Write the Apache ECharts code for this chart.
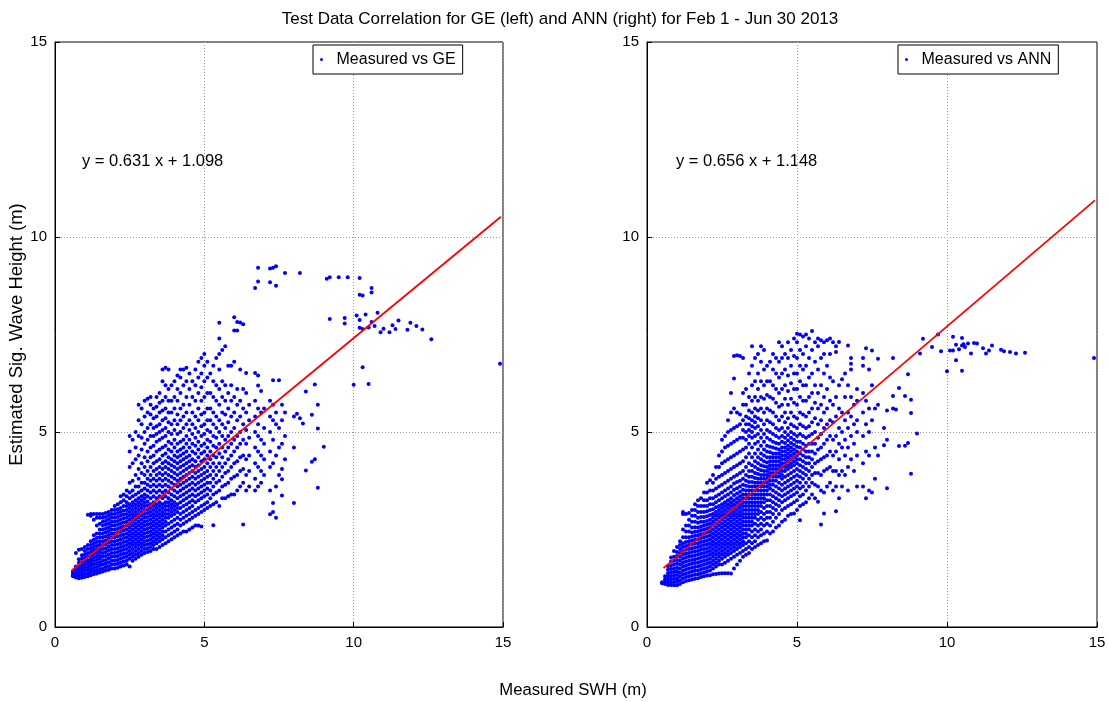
<!DOCTYPE html>
<html>
<head>
<meta charset="utf-8">
<script src="https://cdn.jsdelivr.net/npm/echarts@6/dist/echarts.min.js"></script>
<style>html,body{margin:0;padding:0;background:#fff}#c{width:1109px;height:702px}</style>
</head>
<body>
<div id="c"></div>
<script>
// Axis ticks
const xTicks = [0, 5, 10, 15];
const yTicks = [0, 5, 10, 15];

// Left panel: Measured vs GE, columns [measured x, [estimated y values]]
const geCols = [
[0.6,[1.3,1.36,1.42,1.33]],
[0.7,[1.27,1.34,1.41,1.48,1.55,1.9]],
[0.8,[1.25,1.32,1.4,1.48,1.56,1.65,1.74,1.98]],
[0.9,[1.26,1.34,1.42,1.5,1.58,1.66,1.75,1.84,2.0]],
[1.0,[1.28,1.36,1.44,1.52,1.6,1.68,1.77,1.86,1.95,2.05]],
[1.1,[1.3,1.38,1.46,1.54,1.62,1.7,1.8,1.9,2.0,2.1,2.88]],
[1.2,[1.33,1.41,1.49,1.57,1.65,1.74,1.83,1.92,2.01,2.1,2.2,2.85,2.9]],
[1.3,[1.35,1.43,1.51,1.6,1.69,1.78,1.87,1.96,2.05,2.14,2.24,2.35,2.75,2.9]],
[1.4,[1.37,1.45,1.54,1.63,1.72,1.81,1.9,1.99,2.08,2.18,2.28,2.4,2.6,2.8,2.9]],
[1.5,[1.4,1.48,1.57,1.66,1.75,1.84,1.93,2.02,2.11,2.2,2.3,2.4,2.5,2.65,2.8,2.9]],
[1.6,[1.42,1.5,1.6,1.7,1.8,1.9,2.0,2.1,2.2,2.3,2.4,2.5,2.6,2.7,2.8,2.9]],
[1.7,[1.45,1.54,1.63,1.72,1.82,1.92,2.02,2.12,2.22,2.32,2.42,2.52,2.62,2.72,2.82,2.92]],
[1.8,[1.47,1.56,1.66,1.76,1.86,1.96,2.06,2.16,2.26,2.36,2.46,2.56,2.66,2.76,2.86,2.95]],
[1.9,[1.5,1.6,1.7,1.8,1.9,2.0,2.1,2.2,2.3,2.4,2.5,2.6,2.7,2.8,2.9,3.0]],
[2.0,[1.5,1.6,1.7,1.8,1.9,2.0,2.1,2.2,2.3,2.4,2.5,2.6,2.7,2.8,2.9,3.0,3.1]],
[2.1,[1.52,1.62,1.72,1.82,1.92,2.02,2.12,2.22,2.32,2.42,2.52,2.62,2.72,2.82,2.92,3.02,3.15]],
[2.2,[1.55,1.65,1.75,1.85,1.95,2.05,2.15,2.25,2.35,2.45,2.55,2.65,2.75,2.85,2.95,3.05,3.2,3.35]],
[2.3,[1.58,1.68,1.78,1.88,1.98,2.08,2.18,2.28,2.38,2.48,2.58,2.68,2.78,2.88,2.98,3.1,3.25,3.4]],
[2.4,[1.6,1.7,1.8,1.9,2.0,2.1,2.2,2.3,2.4,2.5,2.6,2.7,2.8,2.9,3.0,3.1,3.2,3.35,3.5]],
[2.5,[1.55,1.75,1.85,1.95,2.05,2.15,2.25,2.35,2.45,2.55,2.65,2.75,2.85,2.95,3.05,3.15,3.3,3.45,3.7,4.1,4.5,4.9]],
[2.6,[1.7,1.8,1.9,2.0,2.1,2.2,2.3,2.4,2.5,2.6,2.7,2.8,2.9,3.0,3.1,3.2,3.35,3.5,3.75,4.2,4.8]],
[2.7,[1.75,1.85,1.95,2.05,2.15,2.25,2.35,2.45,2.55,2.65,2.75,2.85,2.95,3.05,3.15,3.25,3.4,3.6,3.9,4.3,4.6,5.0]],
[2.8,[1.8,1.9,2.0,2.1,2.2,2.3,2.4,2.5,2.6,2.7,2.8,2.9,3.0,3.1,3.2,3.3,3.45,3.6,3.8,4.05,4.4,4.9,5.3,5.7]],
[2.9,[1.85,1.95,2.05,2.15,2.25,2.35,2.45,2.55,2.65,2.75,2.85,2.95,3.05,3.15,3.25,3.35,3.5,3.7,3.95,4.2,4.55,4.85,5.2,5.6]],
[3.0,[1.9,2.0,2.1,2.2,2.3,2.4,2.5,2.6,2.7,2.8,2.9,3.0,3.1,3.2,3.3,3.4,3.55,3.7,3.9,4.1,4.35,4.7,5.0,5.4,5.8]],
[3.1,[1.92,2.02,2.12,2.22,2.32,2.42,2.52,2.62,2.72,2.82,2.92,3.02,3.12,3.22,3.35,3.5,3.65,3.8,4.0,4.25,4.5,4.8,5.1,5.5,5.85]],
[3.2,[1.95,2.05,2.15,2.25,2.35,2.45,2.55,2.65,2.75,2.85,2.95,3.05,3.15,3.3,3.45,3.6,3.75,3.9,4.1,4.35,4.6,4.9,5.2,5.45,5.7,5.9]],
[3.3,[2.0,2.1,2.2,2.3,2.4,2.5,2.6,2.7,2.8,2.9,3.0,3.1,3.2,3.35,3.5,3.65,3.8,4.0,4.2,4.4,4.65,4.9,5.1,5.35,5.6]],
[3.4,[2.0,2.15,2.25,2.35,2.45,2.55,2.65,2.75,2.85,2.95,3.05,3.15,3.3,3.45,3.6,3.75,3.9,4.05,4.25,4.5,4.75,4.95,5.15,5.4,5.65,5.9]],
[3.5,[2.05,2.2,2.3,2.4,2.5,2.6,2.7,2.8,2.9,3.0,3.1,3.2,3.35,3.5,3.65,3.8,3.95,4.1,4.3,4.55,4.8,5.0,5.2,5.5,5.75,6.0]],
[3.6,[2.1,2.25,2.35,2.45,2.55,2.65,2.75,2.85,2.95,3.05,3.15,3.3,3.45,3.6,3.75,3.9,4.05,4.2,4.4,4.6,4.85,5.05,5.3,5.55,5.8,6.3,6.6]],
[3.7,[2.15,2.3,2.45,2.6,2.7,2.8,2.9,3.0,3.1,3.2,3.35,3.5,3.65,3.8,3.95,4.1,4.25,4.45,4.65,4.9,5.1,5.35,5.6,5.9,6.2,6.65]],
[3.8,[2.2,2.35,2.5,2.65,2.8,2.9,3.0,3.1,3.2,3.3,3.45,3.6,3.75,3.9,4.05,4.2,4.35,4.55,4.75,5.0,5.25,5.5,5.8,6.1,6.6]],
[3.9,[2.25,2.4,2.55,2.7,2.85,2.95,3.05,3.15,3.25,3.4,3.55,3.7,3.85,4.0,4.15,4.3,4.5,4.7,4.95,5.2,5.5,5.8,6.2]],
[4.0,[2.3,2.45,2.6,2.75,2.9,3.0,3.1,3.2,3.35,3.5,3.65,3.8,3.95,4.1,4.25,4.4,4.6,4.8,5.05,5.3,5.6,5.9,6.3]],
[4.1,[2.35,2.5,2.65,2.8,2.95,3.05,3.15,3.3,3.45,3.6,3.75,3.9,4.05,4.2,4.35,4.5,4.7,4.95,5.2,5.45,5.8,6.1,6.45]],
[4.2,[2.4,2.6,2.75,2.9,3.05,3.2,3.35,3.5,3.65,3.8,3.95,4.1,4.25,4.4,4.55,4.75,5.0,5.3,5.6,6.0,6.4,6.6]],
[4.3,[2.45,2.65,2.8,2.95,3.1,3.25,3.4,3.55,3.7,3.85,4.0,4.15,4.3,4.45,4.6,4.8,5.1,5.4,5.7,6.2,6.6]],
[4.4,[2.45,2.7,2.85,3.0,3.15,3.3,3.45,3.6,3.75,3.9,4.05,4.2,4.35,4.5,4.7,4.9,5.2,5.5,5.9,6.3,6.65]],
[4.5,[2.5,2.75,2.9,3.05,3.2,3.35,3.5,3.65,3.8,3.95,4.1,4.25,4.4,4.6,4.8,5.05,5.3,5.7,6.1,6.5]],
[4.6,[2.55,2.8,2.95,3.1,3.25,3.4,3.55,3.7,3.85,4.0,4.15,4.3,4.5,4.7,4.95,5.2,5.5,5.9,6.3]],
[4.7,[2.6,2.85,3.0,3.2,3.35,3.5,3.65,3.8,3.95,4.1,4.25,4.45,4.65,4.85,5.1,5.4,5.8,6.2,6.6]],
[4.8,[2.6,2.9,3.05,3.25,3.4,3.55,3.7,3.85,4.0,4.15,4.35,4.55,4.75,5.0,5.3,5.6,6.0,6.4,6.8]],
[4.9,[2.58,2.95,3.1,3.3,3.45,3.6,3.75,3.9,4.05,4.25,4.45,4.65,4.9,5.15,5.45,5.8,6.15,6.5,6.9]],
[5.0,[3.0,3.15,3.35,3.5,3.65,3.8,3.95,4.1,4.3,4.5,4.7,4.95,5.2,5.5,5.9,6.3,6.7,7.0]],
[5.1,[3.05,3.2,3.4,3.55,3.7,3.85,4.0,4.2,4.4,4.6,4.8,5.05,5.3,5.6,6.0,6.4,6.8]],
[5.2,[3.1,3.3,3.5,3.7,3.9,4.1,4.3,4.5,4.75,5.0,5.3,5.6,6.0,6.5]],
[5.3,[2.61,3.15,3.4,3.6,3.8,4.0,4.2,4.4,4.65,4.9,5.2,5.5,5.9,6.3,6.7]],
[5.4,[3.2,3.45,3.7,3.9,4.1,4.35,4.6,4.85,5.1,5.4,5.8,6.2,6.9]],
[5.5,[3.1,3.5,3.75,4.0,4.2,4.45,4.7,5.0,5.3,5.7,6.1,6.6,7.0,7.4,7.8]],
[5.6,[3.3,3.6,3.85,4.1,4.35,4.6,4.9,5.2,5.5,5.9,6.3,7.1]],
[5.7,[3.3,3.65,3.95,4.2,4.5,4.8,5.1,5.45,5.8,6.2,7.2]],
[5.8,[3.35,3.7,4.0,4.3,4.6,4.9,5.25,5.6,6.0,6.7]],
[5.9,[3.4,3.8,4.1,4.4,4.7,5.0,5.4,5.8,6.2,6.7]],
[6.0,[3.4,3.85,4.2,4.5,4.8,5.1,5.5,5.9,6.8,7.6,7.94]],
[6.1,[3.5,3.9,4.25,4.6,4.9,5.3,5.7,6.1,7.82,7.6]],
[6.2,[3.6,4.0,4.35,4.7,5.0,5.4,5.8,6.6,7.81]],
[6.3,[2.63,3.7,4.05,4.4,4.8,5.2,5.6,6.1,7.76]],
[6.4,[3.5,3.9,4.3,4.7,5.05,5.5,6.0,6.51]],
[6.5,[3.6,4.0,4.4,4.85,5.3,5.7]],
[6.7,[3.5,3.8,4.2,4.6,5.0,5.4,5.8,6.51,8.69]],
[6.8,[3.6,4.1,4.5,4.9,5.2,5.6,6.45,6.19,8.86,9.21]],
[6.9,[3.7,4.0,4.4,4.8,5.5,6.05]],
[7.0,[3.9,4.3,4.7,5.1,5.6]],
[7.2,[2.89,3.5,4.1,4.5,5.0,5.4,5.8,9.19,8.84]],
[7.3,[2.95,3.18,4.2,4.8,5.3,5.7,6.33,9.21]],
[7.4,[2.8,3.6,4.4,5.2,5.5,9.25,8.75]],
[7.5,[3.9,4.6,5.1,6.33]],
[7.6,[3.37,3.79,4.05,4.7,5.3,5.7]],
[7.7,[4.3,4.9,5.5,9.08]],
[8.0,[3.18,4.6,5.4]],
[8.1,[5.47]],
[8.2,[5.35,9.08]],
[8.3,[5.22]],
[8.4,[4.01,6.04]],
[8.6,[4.24,5.44]],
[8.7,[4.3,6.22]],
[8.8,[3.57,5.09,5.7]],
[9.0,[4.62]],
[9.1,[8.93]],
[9.2,[8.97,7.9]],
[9.5,[8.97]],
[9.7,[7.92,7.78]],
[9.8,[8.97]],
[10.0,[6.21]],
[10.1,[7.99]],
[10.2,[8.95,8.52,7.87,7.67]],
[10.3,[8.5,7.64,6.66]],
[10.4,[8.01]],
[10.5,[7.68,6.23]],
[10.6,[8.69,8.58,7.82]],
[10.7,[7.72]],
[10.8,[8.06]],
[10.9,[7.56]],
[11.0,[7.65]],
[11.2,[7.56]],
[11.3,[7.74]],
[11.4,[7.64]],
[11.5,[7.86]],
[11.8,[7.62]],
[11.9,[7.8]],
[12.1,[7.72]],
[12.3,[7.63]],
[12.6,[7.38]],
[14.9,[6.75]]
];

// Right panel: Measured vs ANN
const annCols = [
[0.5,[1.12,1.15]],
[0.6,[1.1,1.16,1.22,1.3]],
[0.7,[1.08,1.15,1.22,1.3,1.38,1.47,1.56]],
[0.8,[1.08,1.15,1.23,1.31,1.4,1.49,1.58,1.68,1.78]],
[0.9,[1.07,1.15,1.23,1.32,1.41,1.5,1.6,1.7,1.8,1.95]],
[1.0,[1.07,1.16,1.25,1.34,1.43,1.52,1.62,1.72,1.82,1.92,2.05]],
[1.1,[1.1,1.2,1.3,1.4,1.5,1.6,1.7,1.8,1.9,2.0,2.1,2.2]],
[1.2,[1.15,1.25,1.35,1.45,1.55,1.65,1.75,1.85,1.95,2.05,2.15,2.3,2.5,2.9,2.95]],
[1.3,[1.18,1.28,1.38,1.48,1.58,1.68,1.78,1.88,1.98,2.08,2.18,2.3,2.45,2.6,2.9]],
[1.4,[1.2,1.3,1.4,1.5,1.6,1.7,1.8,1.9,2.0,2.1,2.2,2.3,2.45,2.6,2.75,2.92]],
[1.5,[1.22,1.32,1.42,1.52,1.62,1.72,1.82,1.92,2.02,2.12,2.22,2.32,2.42,2.55,2.7,2.85,3.0]],
[1.6,[1.24,1.34,1.44,1.54,1.64,1.74,1.84,1.94,2.04,2.14,2.24,2.34,2.44,2.56,2.7,2.85,3.0,3.15]],
[1.7,[1.25,1.35,1.45,1.55,1.65,1.75,1.85,1.95,2.05,2.15,2.25,2.35,2.45,2.55,2.67,2.8,2.95,3.1,3.25]],
[1.8,[1.28,1.38,1.48,1.58,1.68,1.78,1.88,1.98,2.08,2.18,2.28,2.38,2.48,2.58,2.7,2.82,2.95,3.1,3.3]],
[1.9,[1.3,1.4,1.5,1.6,1.7,1.8,1.9,2.0,2.1,2.2,2.3,2.4,2.5,2.6,2.7,2.82,2.95,3.1,3.25,3.45]],
[2.0,[1.32,1.42,1.52,1.62,1.72,1.82,1.92,2.02,2.12,2.22,2.32,2.42,2.52,2.62,2.72,2.84,2.97,3.1,3.25,3.45,3.7]],
[2.1,[1.33,1.45,1.55,1.65,1.75,1.85,1.95,2.05,2.15,2.25,2.35,2.45,2.55,2.65,2.75,2.87,3.0,3.15,3.3,3.5,3.76]],
[2.2,[1.35,1.5,1.6,1.7,1.8,1.9,2.0,2.1,2.2,2.3,2.4,2.5,2.6,2.7,2.8,2.9,3.02,3.15,3.3,3.5,3.7,3.9]],
[2.3,[1.36,1.55,1.65,1.75,1.85,1.95,2.05,2.15,2.25,2.35,2.45,2.55,2.65,2.75,2.85,2.95,3.07,3.2,3.35,3.55,3.8,4.1]],
[2.4,[1.37,1.6,1.7,1.8,1.9,2.0,2.1,2.2,2.3,2.4,2.5,2.6,2.7,2.8,2.9,3.0,3.1,3.25,3.4,3.6,3.85,4.1,4.4]],
[2.5,[1.38,1.6,1.75,1.85,1.95,2.05,2.15,2.25,2.35,2.45,2.55,2.65,2.75,2.85,2.95,3.05,3.15,3.3,3.45,3.65,3.9,4.2,4.5,4.8]],
[2.6,[1.38,1.65,1.8,1.9,2.0,2.1,2.2,2.3,2.4,2.5,2.6,2.7,2.8,2.9,3.0,3.1,3.2,3.35,3.5,3.7,3.95,4.25,4.6,4.9]],
[2.7,[1.38,1.7,1.85,1.95,2.05,2.15,2.25,2.35,2.45,2.55,2.65,2.75,2.85,2.95,3.05,3.15,3.25,3.4,3.55,3.75,4.0,4.3,4.65,5.0,5.3]],
[2.8,[1.37,1.75,1.9,2.0,2.1,2.2,2.3,2.4,2.5,2.6,2.7,2.8,2.9,3.0,3.1,3.2,3.3,3.45,3.6,3.8,4.05,4.35,4.7,5.05,5.5,6.0]],
[2.9,[1.5,1.8,1.95,2.05,2.15,2.25,2.35,2.45,2.55,2.65,2.75,2.85,2.95,3.05,3.15,3.25,3.38,3.52,3.68,3.85,4.1,4.4,4.75,5.1,5.6,6.37,6.95]],
[3.0,[1.6,1.85,2.0,2.1,2.2,2.3,2.4,2.5,2.6,2.7,2.8,2.9,3.0,3.1,3.2,3.3,3.42,3.56,3.72,3.9,4.15,4.45,4.8,5.15,5.5,6.97]],
[3.1,[1.7,1.9,2.05,2.15,2.25,2.35,2.45,2.55,2.65,2.75,2.85,2.95,3.05,3.15,3.25,3.35,3.47,3.6,3.75,3.95,4.2,4.5,4.85,5.2,5.45,6.95]],
[3.2,[1.8,1.95,2.1,2.2,2.3,2.4,2.5,2.6,2.7,2.8,2.9,3.0,3.1,3.2,3.3,3.4,3.52,3.65,3.8,4.0,4.25,4.55,4.85,5.05,5.3,5.7,6.0,6.9]],
[3.3,[1.85,2.0,2.15,2.3,2.4,2.5,2.6,2.7,2.8,2.9,3.0,3.1,3.2,3.3,3.4,3.5,3.62,3.75,3.9,4.1,4.35,4.6,4.8,5.0,5.2,5.4,5.7,6.1]],
[3.4,[1.9,2.05,2.2,2.35,2.5,2.6,2.7,2.8,2.9,3.0,3.1,3.2,3.3,3.4,3.5,3.6,3.72,3.85,4.0,4.2,4.45,4.7,4.9,5.05,5.2,5.35,5.55,5.9,6.5]],
[3.5,[2.0,2.15,2.3,2.45,2.6,2.7,2.8,2.9,3.0,3.1,3.2,3.3,3.4,3.5,3.6,3.72,3.85,4.0,4.15,4.35,4.6,4.85,5.0,5.15,5.3,5.5,5.8,6.2,6.7,7.2]],
[3.6,[2.05,2.2,2.35,2.5,2.65,2.8,2.9,3.0,3.1,3.2,3.3,3.4,3.5,3.6,3.7,3.82,3.95,4.1,4.25,4.45,4.7,4.9,5.1,5.25,5.4,5.6,5.9,6.3,6.9]],
[3.7,[2.1,2.3,2.45,2.6,2.75,2.9,3.0,3.1,3.2,3.3,3.4,3.5,3.6,3.7,3.8,3.92,4.05,4.2,4.35,4.55,4.75,4.95,5.15,5.35,5.55,5.8,6.1,6.5,7.0]],
[3.8,[2.15,2.35,2.5,2.65,2.8,2.95,3.1,3.2,3.3,3.4,3.5,3.6,3.7,3.8,3.9,4.02,4.15,4.3,4.45,4.65,4.85,5.05,5.3,5.6,5.9,6.3,6.8,7.2]],
[3.9,[2.2,2.4,2.6,2.75,2.9,3.05,3.2,3.3,3.4,3.5,3.6,3.7,3.8,3.9,4.0,4.12,4.25,4.4,4.55,4.75,4.95,5.2,5.5,5.85,6.2,6.6,7.1]],
[4.0,[2.22,2.45,2.65,2.8,2.95,3.1,3.25,3.4,3.5,3.6,3.7,3.8,3.9,4.0,4.1,4.22,4.35,4.5,4.65,4.85,5.05,5.3,5.6,5.95,6.3,6.7]],
[4.1,[2.4,2.6,2.8,2.95,3.1,3.25,3.4,3.55,3.65,3.75,3.85,3.95,4.05,4.15,4.25,4.35,4.48,4.62,4.8,5.0,5.25,5.55,5.9,6.3,6.8]],
[4.2,[2.45,2.7,2.9,3.05,3.2,3.35,3.5,3.65,3.75,3.85,3.95,4.05,4.15,4.25,4.35,4.45,4.6,4.75,4.95,5.2,5.5,5.85,6.2,6.6,7.0]],
[4.3,[2.55,2.8,3.0,3.15,3.3,3.45,3.6,3.75,3.85,3.95,4.05,4.15,4.25,4.35,4.45,4.58,4.72,4.9,5.1,5.4,5.75,6.1,6.5,6.9]],
[4.4,[2.6,2.9,3.1,3.25,3.4,3.55,3.7,3.85,3.95,4.05,4.15,4.25,4.35,4.45,4.55,4.7,4.85,5.05,5.3,5.65,6.0,6.4,6.8,7.3]],
[4.5,[2.7,3.0,3.2,3.35,3.5,3.65,3.8,3.9,4.0,4.1,4.2,4.3,4.4,4.5,4.6,4.75,4.9,5.1,5.4,5.7,6.1,6.5,6.9,7.2]],
[4.6,[2.75,3.05,3.25,3.4,3.55,3.7,3.85,4.0,4.1,4.2,4.3,4.4,4.5,4.6,4.72,4.85,5.0,5.25,5.5,5.85,6.2,6.6,7.0]],
[4.7,[2.85,3.1,3.3,3.45,3.6,3.75,3.9,4.05,4.15,4.25,4.35,4.45,4.55,4.65,4.78,4.92,5.1,5.35,5.7,6.05,6.45,6.9,7.3]],
[4.8,[2.9,3.15,3.35,3.5,3.65,3.8,3.95,4.1,4.2,4.3,4.4,4.5,4.6,4.72,4.85,5.0,5.2,5.5,5.85,6.25,6.7,7.1]],
[4.9,[2.91,3.2,3.4,3.55,3.7,3.85,4.0,4.15,4.25,4.35,4.45,4.55,4.67,4.8,4.95,5.15,5.4,5.75,6.1,6.5,6.95,7.4]],
[5.0,[3.0,3.25,3.45,3.6,3.75,3.9,4.05,4.2,4.3,4.4,4.5,4.62,4.75,4.9,5.1,5.35,5.7,6.1,6.5,6.9,7.52,7.3]],
[5.1,[2.74,3.1,3.35,3.55,3.7,3.85,4.0,4.15,4.3,4.45,4.6,4.75,4.95,5.2,5.5,5.9,6.3,6.7,7.1,7.5]],
[5.2,[3.15,3.4,3.6,3.8,3.95,4.1,4.25,4.4,4.55,4.7,4.9,5.15,5.45,5.8,6.2,6.6,7.0,7.45]],
[5.3,[3.2,3.5,3.7,3.9,4.05,4.2,4.35,4.5,4.65,4.85,5.1,5.4,5.8,6.2,6.7,7.2,7.5]],
[5.4,[3.3,3.6,3.8,4.0,4.2,4.35,4.5,4.7,4.9,5.15,5.5,5.9,6.4,6.9,7.4]],
[5.5,[3.4,3.7,3.9,4.1,4.3,4.5,4.7,4.95,5.25,5.6,6.0,6.5,7.1,7.59]],
[5.6,[3.3,3.65,3.95,4.2,4.45,4.7,5.0,5.35,5.75,6.2,6.8,7.3]],
[5.7,[3.21,3.6,3.95,4.25,4.55,4.85,5.2,5.6,6.0,6.6,7.2,7.4]],
[5.8,[2.63,3.5,3.9,4.3,4.6,4.95,5.3,5.7,6.2,6.9,7.35]],
[5.9,[2.91,3.45,4.0,4.35,4.7,5.1,5.5,5.9,6.5,7.0,7.3]],
[6.0,[3.6,4.05,4.4,4.8,5.2,5.6,6.1,6.7,7.35]],
[6.1,[3.7,4.1,4.5,4.9,5.3,5.8,6.4,7.0,7.4]],
[6.2,[3.5,4.0,4.4,4.8,5.25,5.7,6.3,7.3]],
[6.3,[2.97,3.6,4.0,4.5,4.9,5.4,5.9,7.2,7.05]],
[6.4,[3.3,3.9,4.3,4.7,5.1,5.6,6.2,7.31]],
[6.5,[3.6,4.0,4.6,5.0,5.5,6.35]],
[6.6,[3.9,4.4,4.8,5.3,5.9,6.5]],
[6.7,[3.5,4.1,4.6,5.1,5.5,6.2,7.22]],
[6.8,[4.3,4.9,5.4,5.9,6.6,6.75,6.9]],
[6.9,[4.0,4.7,5.2,5.7]],
[7.0,[3.6,4.4,5.0,5.3,5.8,6.1]],
[7.2,[3.6,4.2,4.9,5.5,6.0,6.7,6.9]],
[7.3,[3.3,4.5,5.2,5.8,7.15]],
[7.4,[3.5,4.4,5.0,5.6,6.6]],
[7.5,[3.45,5.3,6.2,7.09]],
[7.6,[3.8,4.6,5.6]],
[7.7,[4.4,5.7,6.88]],
[7.9,[4.66,5.1]],
[8.0,[4.8,3.56,5.55]],
[8.2,[5.6,5.92,6.9]],
[8.3,[5.58]],
[8.4,[4.64,6.13]],
[8.6,[4.65,5.92]],
[8.7,[4.72,6.48]],
[8.8,[3.93,5.83,5.49]],
[9.0,[4.96]],
[9.1,[7.01]],
[9.2,[7.39]],
[9.5,[7.18]],
[9.7,[7.5]],
[9.8,[7.07]],
[10.0,[6.56]],
[10.1,[7.09]],
[10.2,[7.44,7.09]],
[10.3,[7.24,6.84]],
[10.4,[7.12]],
[10.5,[7.41,7.22,6.57]],
[10.55,[7.25]],
[10.6,[7.18]],
[10.7,[7.27]],
[10.8,[7.01]],
[10.9,[7.28]],
[11.0,[7.27]],
[11.2,[7.15]],
[11.3,[7.01]],
[11.4,[7.09]],
[11.5,[7.22]],
[11.8,[7.11]],
[11.9,[7.07]],
[12.1,[7.05]],
[12.3,[7.01]],
[12.6,[7.03]],
[14.9,[6.9]]
];

// Fit lines (endpoints, matching the printed equations)
const geFit = [[0.56, 1.45], [14.93, 10.52]];
const annFit = [[0.55, 1.51], [14.93, 10.94]];

const geLabel = 'y = 0.631 x + 1.098';
const annLabel = 'y = 0.656 x + 1.148';

const toPts = cols => cols.flatMap(c => c[1].map(y => [c[0], y]));

const FONT = '"Liberation Sans", Arial, Helvetica, sans-serif';
const chart = echarts.init(document.getElementById('c'), null, {renderer: 'canvas'});

function axisBase(gi) {
  return {
    gridIndex: gi, type: 'value', min: 0, max: 15, interval: 5,
    axisLine: {show: true, onZero: false, lineStyle: {color: '#000', width: 1}},
    axisTick: {show: true, inside: true, length: 5, lineStyle: {color: '#000'}},
    axisLabel: {color: '#000', fontSize: 15, fontFamily: FONT, margin: 8},
    splitLine: {show: true, lineStyle: {color: '#999', type: [1, 2], width: 1}}
  };
}
function yAx(gi, withName) {
  const a = axisBase(gi);
  if (withName) {
    a.name = 'Estimated Sig. Wave Height (m)';
    a.nameLocation = 'middle';
    a.nameGap = 25;
    a.nameTextStyle = {color: '#000', fontSize: 18.5, fontFamily: FONT};
  }
  return a;
}

function legendFor(name, left) {
  return {data: [{name: name}], left: left, top: 45, orient: 'vertical',
    icon: 'circle', itemWidth: 20, itemHeight: 3, itemGap: 0,
    padding: [6, 7, 6, 7], borderColor: '#000', borderWidth: 1, backgroundColor: '#fff',
    textStyle: {color: '#000', fontSize: 16, fontFamily: FONT, lineHeight: 17}};
}

const option = {
  backgroundColor: '#fff',
  animation: false,
  title: {
    text: 'Test Data Correlation for GE (left) and ANN (right) for Feb 1 - Jun 30 2013',
    left: 555, top: 6, textAlign: 'center',
    textStyle: {color: '#000', fontSize: 17, fontWeight: 'normal', fontFamily: FONT}
  },
  grid: [
    {left: 55, top: 42, width: 448, height: 585, show: true, borderColor: '#000', borderWidth: 1, backgroundColor: 'transparent'},
    {left: 647, top: 42, width: 450, height: 585, show: true, borderColor: '#000', borderWidth: 1, backgroundColor: 'transparent'}
  ],
  xAxis: [axisBase(0), axisBase(1)],
  yAxis: [yAx(0, true), yAx(1, false)],
  legend: [legendFor('Measured vs GE', 313), legendFor('Measured vs ANN', 898)],
  series: [
    {name: 'Measured vs GE', type: 'scatter', xAxisIndex: 0, yAxisIndex: 0,
     data: toPts(geCols), symbol: 'circle', symbolSize: 4, itemStyle: {color: '#0000ff', opacity: 1}, silent: true},
    {name: 'GE fit', type: 'line', xAxisIndex: 0, yAxisIndex: 0, data: geFit,
     showSymbol: false, symbol: 'none', lineStyle: {color: '#ff0000', width: 1.8}, z: 5, silent: true},
    {name: 'Measured vs ANN', type: 'scatter', xAxisIndex: 1, yAxisIndex: 1,
     data: toPts(annCols), symbol: 'circle', symbolSize: 4, itemStyle: {color: '#0000ff', opacity: 1}, silent: true},
    {name: 'ANN fit', type: 'line', xAxisIndex: 1, yAxisIndex: 1, data: annFit,
     showSymbol: false, symbol: 'none', lineStyle: {color: '#ff0000', width: 1.8}, z: 5, silent: true}
  ],
  graphic: [
    {type: 'text', x: 82, y: 161, style: {text: geLabel, fill: '#000', font: '16.5px ' + FONT, textVerticalAlign: 'middle'}},
    {type: 'text', x: 676, y: 161, style: {text: annLabel, fill: '#000', font: '16.5px ' + FONT, textVerticalAlign: 'middle'}},
    {type: 'text', x: 573, y: 690, style: {text: 'Measured SWH (m)', fill: '#000', font: '16.7px ' + FONT, textAlign: 'center', textVerticalAlign: 'middle'}}
  ]
};
chart.setOption(option);
</script>
</body>
</html>
